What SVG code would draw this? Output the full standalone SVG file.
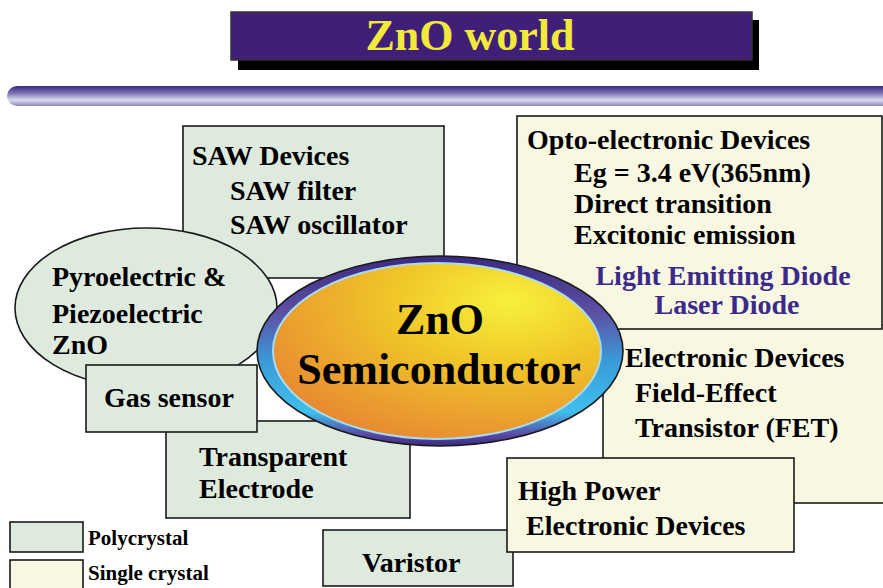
<svg xmlns="http://www.w3.org/2000/svg" width="883" height="588" viewBox="0 0 883 588">
<defs>
<linearGradient id="bar" x1="0" y1="0" x2="0" y2="1">
<stop offset="0" stop-color="#3b2a7e"/>
<stop offset="0.35" stop-color="#7b72b4"/>
<stop offset="0.7" stop-color="#dcdcee"/>
<stop offset="1" stop-color="#8c88c0"/>
</linearGradient>
<linearGradient id="ring" x1="0" y1="0" x2="0" y2="1">
<stop offset="0" stop-color="#3a2a80"/>
<stop offset="0.3" stop-color="#5e50a4"/>
<stop offset="0.55" stop-color="#3a9ad8"/>
<stop offset="0.82" stop-color="#3ec0ee"/>
<stop offset="0.94" stop-color="#5a4aa4"/>
<stop offset="1" stop-color="#3a2a80"/>
</linearGradient>
<radialGradient id="core" cx="0.72" cy="0.22" r="0.85">
<stop offset="0" stop-color="#f8f03c"/>
<stop offset="0.4" stop-color="#f0c828"/>
<stop offset="1" stop-color="#e88a32"/>
</radialGradient>
<style>
.poly{fill:#dfeadf;stroke:#1a1a1a;stroke-width:1.6}
.single{fill:#f7f7e2;stroke:#1a1a1a;stroke-width:1.6}
.t{font-family:"Liberation Serif","Times New Roman",serif;font-weight:bold;font-size:28px;fill:#000}
.blue{fill:#3b2a8a}
.leg{font-size:21px}
</style>
</defs>

<g id="title">
<rect x="238" y="20" width="521" height="50" fill="#000"/>
<rect x="231" y="12" width="521" height="48" fill="#3f1f78" stroke="#333" stroke-width="1.5"/>
<text x="470" y="50" text-anchor="middle" class="t" style="font-size:44px;fill:#f2ea3a">ZnO world</text>
</g>

<g id="divider">
<rect x="7" y="86" width="900" height="20" rx="10" fill="url(#bar)"/>
</g>

<g id="saw">
<rect class="poly" x="183" y="126" width="261" height="152"/>
<text class="t" x="192" y="165">SAW Devices</text>
<text class="t" x="230" y="200">SAW filter</text>
<text class="t" x="230" y="234">SAW oscillator</text>
</g>

<g id="electronic">
<rect class="single" x="603" y="325" width="300" height="178"/>
<text class="t" x="625" y="367">Electronic Devices</text>
<text class="t" x="635" y="402">Field-Effect</text>
<text class="t" x="635" y="437">Transistor (FET)</text>
</g>

<g id="opto">
<rect class="single" x="517" y="116" width="365" height="213"/>
<text class="t" x="527" y="149">Opto-electronic Devices</text>
<text class="t" x="574" y="182">Eg = 3.4 eV(365nm)</text>
<text class="t" x="574" y="213">Direct transition</text>
<text class="t" x="574" y="244">Excitonic emission</text>
<text class="t blue" x="723" y="285" text-anchor="middle">Light Emitting Diode</text>
<text class="t blue" x="727" y="314" text-anchor="middle">Laser Diode</text>
</g>

<g id="transparent">
<rect class="poly" x="166" y="421" width="244" height="97"/>
<text class="t" x="199" y="466">Transparent</text>
<text class="t" x="199" y="498">Electrode</text>
</g>

<g id="pyro">
<ellipse class="poly" cx="146" cy="308" rx="131" ry="80"/>
<text class="t" x="52" y="286">Pyroelectric &amp;</text>
<text class="t" x="52" y="323">Piezoelectric</text>
<text class="t" x="52" y="354">ZnO</text>
</g>

<g id="gas">
<rect class="poly" x="86" y="365" width="171" height="67"/>
<text class="t" x="104" y="407">Gas sensor</text>
</g>

<g id="varistor">
<rect class="poly" x="323" y="530" width="190" height="56"/>
<text class="t" x="362" y="572">Varistor</text>
</g>

<g id="highpower">
<rect class="single" x="507" y="458" width="287" height="94"/>
<text class="t" x="518" y="500">High Power</text>
<text class="t" x="526" y="535">Electronic Devices</text>
</g>

<g id="center">
<ellipse cx="440" cy="351" rx="183" ry="95" fill="url(#ring)" stroke="#1a1a1a" stroke-width="1.6"/>
<ellipse cx="437" cy="351" rx="164" ry="88" fill="url(#core)" stroke="#a8dcf0" stroke-width="2"/>
<text class="t" x="440" y="334" text-anchor="middle" style="font-size:44px">ZnO</text>
<text class="t" x="439" y="384" text-anchor="middle" style="font-size:44px">Semiconductor</text>
</g>

<g id="legend">
<rect class="poly" x="10" y="522" width="73" height="30"/>
<text class="t leg" x="88" y="545">Polycrystal</text>
<rect class="single" x="10" y="560" width="73" height="40"/>
<text class="t leg" x="88" y="580">Single crystal</text>
</g>

<g id="connectors"/>
</svg>
